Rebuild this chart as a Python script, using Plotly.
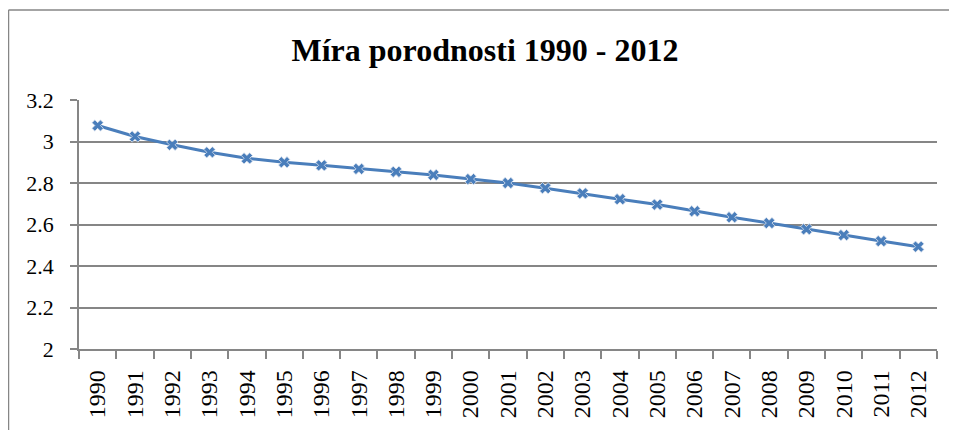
import plotly.graph_objects as go

years = [str(y) for y in range(1990, 2013)]
birth_rate = [3.077, 3.024, 2.984, 2.948, 2.919, 2.900, 2.885, 2.868, 2.854, 2.839,
              2.819, 2.800, 2.775, 2.750, 2.722, 2.696, 2.664, 2.635, 2.607, 2.577,
              2.549, 2.520, 2.493]
title_text = "Míra porodnosti 1990 - 2012"
y_ticks = [2, 2.2, 2.4, 2.6, 2.8, 3, 3.2]

# page body has an 8px default margin; figure sized to fit the window
OFF = 8
W, H = 957 - OFF, 430 - OFF
L, R, T, B = 79 - OFF, 20, 100 - OFF, 81
pw, ph = W - L - R, H - T - B

def px_x(px):
    return (px - OFF - L) / pw

def px_y(py):
    return (H - B - (py - OFF)) / ph

fig = go.Figure()
fig.add_trace(go.Scatter(
    x=years, y=birth_rate, mode="lines+markers",
    line=dict(color="#4a7ebb", width=3),
    marker=dict(symbol="x", size=10, color="#4a7ebb",
                line=dict(color="#dfe6f0", width=0.8)),
    showlegend=False,
))

font_family = "Liberation Serif"
fig.update_layout(
    width=W, height=H,
    margin=dict(l=L, r=R, t=T, b=B),
    paper_bgcolor="white", plot_bgcolor="white",
    title=dict(text="<b>" + title_text + "</b>", x=(485 - OFF) / W, xanchor="center",
               y=1 - (50 - OFF) / H, yanchor="middle", yref="container",
               font=dict(family=font_family, size=32, color="black")),
    font=dict(family=font_family, color="black"),
    xaxis=dict(
        type="category", tickson="boundaries", ticks="outside", ticklen=8,
        tickcolor="#868686", tickwidth=1.5,
        showline=True, linecolor="#868686", linewidth=1.5,
        showgrid=False, tickangle=-90, ticklabelstandoff=10,
        tickfont=dict(family=font_family, size=24, color="black"),
        range=[-0.5, len(years) - 0.5],
    ),
    yaxis=dict(
        range=[2, 3.2], tickvals=y_ticks, ticktext=[f"{v:g}" for v in y_ticks],
        ticks="outside", ticklen=7, tickcolor="#868686", tickwidth=1.5,
        showline=True, linecolor="#868686", linewidth=1.5,
        showgrid=True, gridcolor="#868686", gridwidth=1.5,
        zeroline=False, ticklabelstandoff=12,
        tickfont=dict(family=font_family, size=22, color="black"),
    ),
    shapes=[
        dict(type="line", xref="paper", yref="paper",
             x0=px_x(8.5), x1=px_x(960), y0=px_y(10), y1=px_y(10),
             line=dict(color="#868686", width=1.5)),
        dict(type="line", xref="paper", yref="paper",
             x0=px_x(8.5), x1=px_x(8.5), y0=px_y(10), y1=px_y(432),
             line=dict(color="#868686", width=1.5)),
    ],
)

fig.write_html("out.html")
